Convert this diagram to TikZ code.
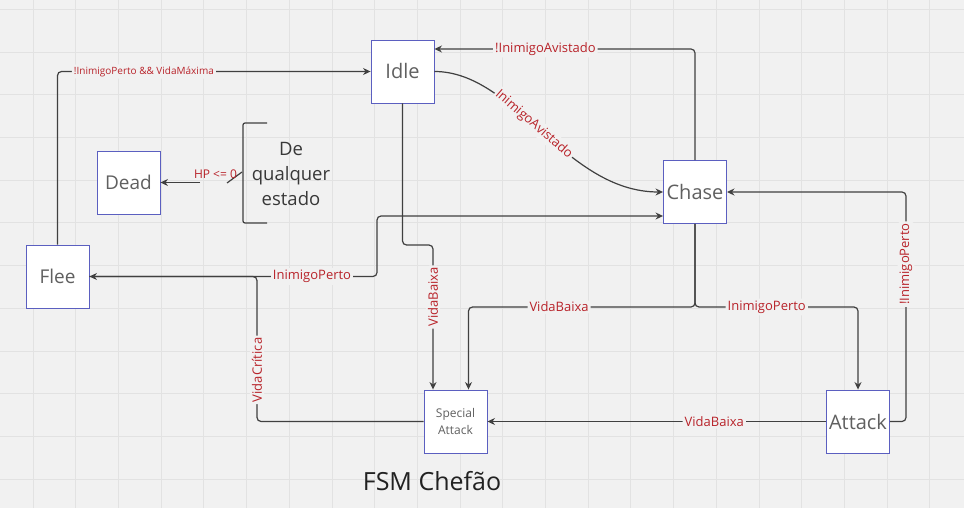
\documentclass[tikz,border=0pt]{standalone}
\usepackage{fontspec}
\setmainfont{Open Sans}
\usetikzlibrary{arrows.meta}
\definecolor{bg}{HTML}{F1F1F1}
\definecolor{gridc}{HTML}{E2E2E2}
\definecolor{edgec}{HTML}{404040}
\definecolor{lblc}{HTML}{B8232A}
\definecolor{boxb}{HTML}{5B5FC0}
\definecolor{txtc}{HTML}{606060}
\definecolor{darkt}{HTML}{222222}
\begin{document}
\begin{tikzpicture}[x=1pt,y=-1pt,
  state/.style={draw=boxb, fill=white, line width=0.9pt, minimum width=63pt, minimum height=63pt,
    inner sep=0pt, text=txtc, font=\fontsize{20}{22}\selectfont},
  plainline/.style={draw=edgec, line width=1.2pt, rounded corners=4pt},
  conn/.style={plainline, -{Stealth[length=7.5pt,width=7pt]}},
  lab/.style={fill=bg, text=lblc, font=\fontsize{13}{15}\selectfont, inner sep=2pt},
]
\fill[bg] (0,0) rectangle (964,508);
\useasboundingbox (0,0) rectangle (964,508);
\foreach \k in {1,...,22} \draw[gridc, line width=0.8pt] ({-9.7+42.7*\k},0) -- ({-9.7+42.7*\k},508);
\foreach \k in {0,...,11} \draw[gridc, line width=0.8pt] (0,{9.3+42.7*\k}) -- (964,{9.3+42.7*\k});

% states
\node[state] (idle) at (402.5,71.5) {Idle};
\node[state] (chase) at (695,192) {Chase};
\node[state, font=\fontsize{19}{22}\selectfont] (dead) at (128.5,182.5) {Dead};
\node[state, font=\fontsize{19}{22}\selectfont] (flee) at (57.5,276.5) {Flee};
\node[state, font=\fontsize{12}{17}\selectfont, align=center] (sa) at (455.5,421.5) {Special\\Attack};
\node[state] (attack) at (858,421.5) {Attack};

% any-state bracket
\draw[plainline, rounded corners=2pt] (267,123) -- (243,123) -- (243,223) -- (267,223);
\node[align=center, text=darkt!90, font=\fontsize{18.5}{25}\selectfont] (anyst) at (291,174) {De\\qualquer\\estado};

% coordinates
\coordinate (hp) at (242,172);
\coordinate (tick) at (227,183);
\coordinate (hpe) at (200,182.5);
\coordinate (fc) at (377,276.5);
\coordinate (vc) at (257,276.5);
\coordinate (ib) at (402.5,245);
\coordinate (ic) at (433,245);
\coordinate (cj) at (695,307);
\coordinate (ac) at (906,192);

% HP <= 0
\draw[plainline] (hp) -- (tick);
\draw[conn] (hpe) -- (dead.east);
\node[text=lblc, font=\fontsize{12}{14}\selectfont, inner sep=0pt] (hplab) at (215.5,174) {HP <= 0};

% Flee -> Idle
\draw[conn] (flee.north) |- node[lab, pos=0.638, font=\fontsize{10}{12}\selectfont] {!InimigoPerto \&\& VidaMáxima} (idle.west);

% Chase -> Idle
\draw[conn] (chase.north) |- node[lab, pos=0.787] {!InimigoAvistado} ([yshift=22.5pt]idle.east);

% Idle -> Chase
\draw[conn, rounded corners=0pt] (idle.east) .. controls (515,71.5) and (565,192) .. (chase.west)
  node[lab, pos=0.46, sloped, inner sep=1.5pt] {InimigoAvistado};

% Flee -> Chase
\draw[conn] (flee.east) -- (fc) |- ([yshift=-24pt]chase.west);
% Special Attack -> Flee
\draw[conn] (sa.west) -| node[lab, rotate=90, pos=0.678] {VidaCrítica} (vc) -- (flee.east);
\node[lab] (iplab) at (312,276.5) {InimigoPerto};

% Idle -> Special Attack
\draw[conn] (idle.south) -- (ib) -- (ic) -- node[lab, rotate=90, pos=0.36] {VidaBaixa} ([xshift=-22.5pt]sa.north);

% Chase -> Special Attack
\draw[conn] (chase.south) -- (cj) -| node[lab, pos=0.30] {VidaBaixa} ([xshift=13pt]sa.north);

% Chase -> Attack
\draw[conn] (chase.south) -- (cj) -| node[lab, pos=0.22] {InimigoPerto} (attack.north);

% Attack -> Special Attack
\draw[conn] (attack.west) -- node[lab, pos=0.33] {VidaBaixa} (sa.east);

% Attack -> Chase
\draw[conn] (attack.east) -| node[lab, rotate=90, pos=0.843] {!InimigoPerto} (ac) -- (chase.east);

% title
\node[text=darkt, font=\fontsize{25}{28}\selectfont] (title) at (432,481) {FSM Chefão};
\end{tikzpicture}
\end{document}
